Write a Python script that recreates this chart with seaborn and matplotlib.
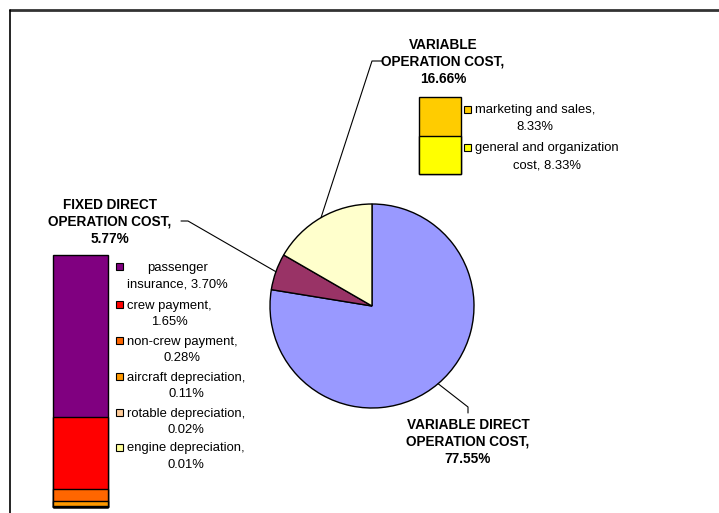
import numpy as np
import matplotlib
matplotlib.use("Agg")
import matplotlib.pyplot as plt
from matplotlib.patches import Rectangle
from matplotlib.lines import Line2D
import seaborn as sns
import pandas as pd

# ---- data -------------------------------------------------------------
pie_labels = ["VARIABLE DIRECT\nOPERATION COST,", "FIXED DIRECT\nOPERATION COST,",
              "VARIABLE\nOPERATION COST,"]
pie_values = [77.55, 5.77, 16.66]
pie_colors = ["#9999FF", "#993366", "#FFFFCC"]

fixed_items = ["passenger\ninsurance", "crew payment", "non-crew payment",
               "aircraft depreciation", "rotable depreciation", "engine depreciation"]
fixed_values = [3.70, 1.65, 0.28, 0.11, 0.02, 0.01]
fixed_colors = ["#800080", "#FF0000", "#FF6600", "#FF9900", "#FFCC99", "#FFFF99"]

var_items = ["marketing and sales", "general and organization\ncost"]
var_values = [8.33, 8.33]
var_colors = ["#FFCC00", "#FFFF00"]

# ---- style ------------------------------------------------------------
sns.set_theme(style="white")
plt.rcParams["font.family"] = ["Liberation Sans", "DejaVu Sans"]

W, H = 719, 513
fig = plt.figure(figsize=(W / 100, H / 100), dpi=100)
fig.patch.set_facecolor("white")

# canvas axes in pixel units (y measured from top via helper)
ax = fig.add_axes([0, 0, 1, 1])


def Y(y):
    return H - y


# ---- pie ----------------------------------------------------------------
cx, cy, r = 372, 306, 102
wedges, _ = ax.pie(pie_values, colors=pie_colors, startangle=90, counterclock=False,
                   center=(cx, Y(cy)), radius=r,
                   wedgeprops=dict(edgecolor="black", linewidth=1.0))
ax.set_xlim(0, W)
ax.set_ylim(0, H)
ax.set_aspect("equal")
ax.axis("off")

# outer frame (top and left edges)
ax.add_line(Line2D([10, W], [Y(10), Y(10)], color="#333333", lw=2.0))
ax.add_line(Line2D([10, 10], [Y(10), 0], color="black", lw=1.2))


def edge_point(w):
    a = np.deg2rad((w.theta1 + w.theta2) / 2)
    return cx + r * np.cos(a), Y(cy) + r * np.sin(a)


bold = dict(fontsize=9.8, fontweight="bold", ha="center", va="center",
            multialignment="center", linespacing=1.28, color="black")

# variable direct operation cost label
px, py = edge_point(wedges[0])
ax.plot([px, 468, 468], [py, Y(407), Y(413)], color="black", lw=0.8)
ax.text(468, Y(442), f"{pie_labels[0]}\n{pie_values[0]:.2f}%", **bold)

# fixed direct operation cost label
px, py = edge_point(wedges[1])
ax.plot([181, 188, px], [Y(221), Y(221), py], color="black", lw=0.8)
ax.text(110, Y(222), f"{pie_labels[1]}\n{pie_values[1]:.2f}%", **bold)

# variable operation cost label
px, py = edge_point(wedges[2])
ax.plot([382, 372, px], [Y(61), Y(61), py], color="black", lw=0.8)
ax.text(443, Y(62), f"{pie_labels[2]}\n{pie_values[2]:.2f}%", **bold)


# ---- stacked breakdown bars --------------------------------------------
def stacked_bar(rect, values, colors):
    bax = fig.add_axes(rect)
    # cumulative heights from the bottom segment upwards
    vals = list(values)[::-1]
    cols = list(colors)[::-1]
    cum = np.cumsum(vals)
    for h, c in sorted(zip(cum, cols), key=lambda t: -t[0]):
        df = pd.DataFrame({"k": ["x"], "v": [h]})
        sns.barplot(data=df, x="k", y="v", ax=bax, color=c, width=1.0,
                    saturation=1, edgecolor="black", linewidth=1.0)
    for p in bax.patches:
        p.set_clip_on(False)
    bax.set_xlim(-0.5, 0.5)
    bax.set_ylim(0, cum[-1])
    bax.axis("off")
    return bax


def fr(x0, y0, x1, y1):
    return [x0 / W, (H - y1) / H, (x1 - x0) / W, (y1 - y0) / H]


stacked_bar(fr(53, 255, 108, 507), fixed_values, fixed_colors)
stacked_bar(fr(419, 97, 461, 174), var_values, var_colors)

reg = dict(fontsize=9.4, ha="left", va="top", multialignment="center",
           linespacing=1.55, color="black")


def legend_entry(sx, tx, y, color, text):
    ax.add_patch(Rectangle((sx, Y(y) - 3.5), 7, 7, facecolor=color,
                           edgecolor="black", linewidth=0.8))
    ax.text(tx, Y(y) + 4.5, text, **reg)


fixed_rows = [266, 304, 340, 376, 412, 447]
for name, v, c, y in zip(fixed_items, fixed_values, fixed_colors, fixed_rows):
    sep = " " if "\n" in name else "\n"
    legend_entry(115.5, 127, y, c, f"{name},{sep}{v:.2f}%")

var_rows = [109, 147]
for name, v, c, y in zip(var_items, var_values, var_colors, var_rows):
    sep = " " if "\n" in name else "\n"
    legend_entry(464, 475, y, c, f"{name},{sep}{v:.2f}%")

fig.savefig("out.png", dpi=100, facecolor="white")
